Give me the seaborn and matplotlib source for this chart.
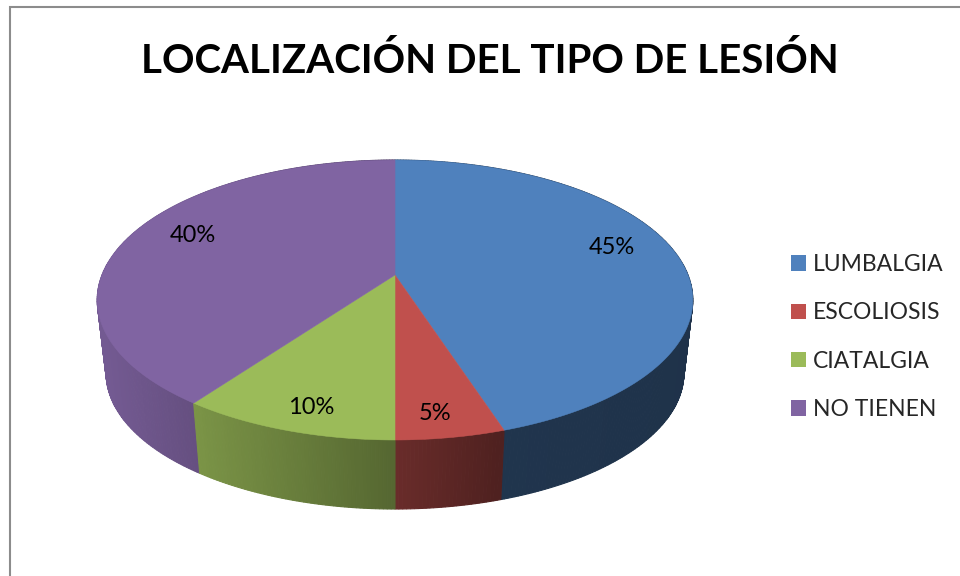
import numpy as np
import matplotlib
matplotlib.use("Agg")
import matplotlib.pyplot as plt
from matplotlib.patches import Patch
import seaborn as sns

# Datos del grafico
categorias = ["LUMBALGIA", "ESCOLIOSIS", "CIATALGIA", "NO TIENEN"]
porcentajes = [45, 5, 10, 40]
colores = ["#4F81BD", "#C0504D", "#9BBB59", "#8064A2"]
titulo = "LOCALIZACIÓN DEL TIPO DE LESIÓN"

sns.set_theme(style="white")
plt.rcParams["font.family"] = ["Lato", "DejaVu Sans"]
paleta = sns.color_palette(colores)

# Geometria del pastel 3D en pixeles de la figura
cx, cy = 395, 275
radio = 293
persp_k = 0.1786
persp_a = 135.5
escala_base = 0.97
desplaz_base = 74


def proyectar(theta, base=False):
    x = np.cos(theta)
    y = np.sin(theta)
    w = 1 + persp_k * y
    px = radio * x / w
    py = -persp_a * y / w
    if base:
        px = px * escala_base
        py = py * escala_base + desplaz_base
    return cx + px, cy + py


def sombra(px):
    # el lado se oscurece de izquierda a derecha
    return np.interp(px - cx, [-290, 0, 105, 300], [0.9, 0.55, 0.41, 0.39])


fig = plt.figure(figsize=(9.6, 5.76), dpi=100, facecolor="white")
ax = fig.add_axes([0, 0, 1, 1])
ax.set_xlim(0, 960)
ax.set_ylim(576, 0)
ax.axis("off")

# marco del grafico
ax.plot([10, 10, 960], [576, 7, 7], color="#8C8C8C", lw=1.5, solid_joinstyle="miter")

# angulos: empieza arriba y va en sentido horario
fracciones = np.array(porcentajes) / sum(porcentajes)
bordes = np.pi / 2 - 2 * np.pi * np.concatenate([[0], np.cumsum(fracciones)])

# caras laterales, de atras hacia adelante
tiras = []
for i, color in enumerate(paleta):
    n = max(int((bordes[i] - bordes[i + 1]) * 90), 2)
    angulos = np.linspace(bordes[i], bordes[i + 1], n + 1)
    for a0, a1 in zip(angulos[:-1], angulos[1:]):
        tiras.append((a0, a1, color))
tiras.sort(key=lambda t: -np.sin((t[0] + t[1]) / 2))

for a0, a1, color in tiras:
    x0, y0 = proyectar(a0)
    x1, y1 = proyectar(a1)
    x2, y2 = proyectar(a1, base=True)
    x3, y3 = proyectar(a0, base=True)
    f = sombra((x0 + x1) / 2)
    c = tuple(np.array(color) * f)
    ax.fill([x0, x1, x2, x3], [y0, y1, y2, y3], color=c, lw=0.8)

# cara superior
for i, color in enumerate(paleta):
    angulos = np.linspace(bordes[i], bordes[i + 1], 300)
    xs, ys = proyectar(angulos)
    ax.fill(np.r_[cx, xs], np.r_[cy, ys], color=color, lw=0.4)

# etiquetas de porcentaje
pos_etiquetas = [(612, 248), (435, 414), (311, 408), (193, 235)]
for (x, y), v in zip(pos_etiquetas, porcentajes):
    ax.text(x, y, f"{v}%", ha="center", va="center", fontsize=17, color="black")

ax.text(490, 73, titulo, ha="center", va="baseline", fontsize=29, fontweight="bold", color="black")

manejadores = [Patch(facecolor=c, edgecolor="none", label=n) for c, n in zip(paleta, categorias)]
ax.legend(
    handles=manejadores,
    loc="upper left",
    bbox_to_anchor=(791, 254),
    bbox_transform=ax.transData,
    frameon=False,
    fontsize=16.5,
    handlelength=0.66,
    handleheight=0.66,
    handletextpad=0.28,
    labelspacing=1.195,
    borderpad=0,
    borderaxespad=0,
)

plt.savefig("out.png", dpi=100)
plt.close()
